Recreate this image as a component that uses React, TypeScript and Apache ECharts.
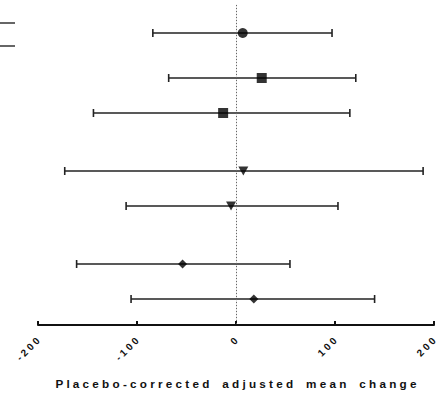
import React, { useEffect, useRef } from "react";
import * as echarts from "echarts";

// Row positions (arbitrary vertical units, top to bottom)
const rowPos = [2.8, 7.3, 10.8, 16.6, 20.1, 25.9, 29.4];
const means = [6.8, 26, -13, 7.4, -5, -54, 18];
const lowers = [-84, -68, -144, -173, -111, -161, -106];
const uppers = [97, 121, 115, 189, 103, 54.5, 140];
const symbols = ["circle", "rect", "rect", "triangle", "triangle", "diamond", "diamond"];
const xTicks = [-200, -100, 0, 100, 200];
const axisTitle = "Placebo-corrected adjusted mean change";

const spaced = (s: string) => s.split("").join(" ");

export default function App() {
  const ref = useRef<HTMLDivElement>(null);
  useEffect(() => {
    if (!ref.current) return;
    const chart = echarts.init(ref.current, null, { renderer: "svg" });
    const sizes: Record<string, number | number[]> = {
      circle: 10,
      rect: 10,
      triangle: [10, 9],
      diamond: [9, 9],
    };
    chart.setOption({
      animation: false,
      backgroundColor: "#ffffff",
      grid: { left: 38, right: 9, top: 5, bottom: 69 },
      xAxis: {
        type: "value",
        min: xTicks[0],
        max: xTicks[xTicks.length - 1],
        interval: 100,
        axisLine: { show: true, onZero: false, lineStyle: { color: "#111", width: 2 } },
        axisTick: { show: true, inside: true, length: 4, lineStyle: { color: "#111", width: 2 } },
        splitLine: { show: false },
        axisLabel: {
          rotate: 45,
          margin: 14,
          color: "#111",
          fontFamily: "Liberation Sans, Arial, sans-serif",
          fontWeight: "bold",
          fontSize: 10,
          formatter: (v: number) => spaced(String(v)),
        },
        name: spaced(axisTitle).replace(/   /g, "    "),
        nameLocation: "middle",
        nameGap: 52,
        nameTextStyle: {
          color: "#111",
          fontFamily: "Liberation Sans, Arial, sans-serif",
          fontWeight: "bold",
          fontSize: 11.7,
        },
      },
      yAxis: {
        type: "value",
        min: 0,
        max: 32,
        inverse: true,
        axisLine: { show: true, lineStyle: { color: "#e2e2e2", width: 1 } },
        axisTick: { show: false },
        axisLabel: { show: false },
        splitLine: { show: false },
      },
      graphic: [
        { type: "line", shape: { x1: 0, y1: 23, x2: 15, y2: 23 }, style: { stroke: "#333", lineWidth: 1.5 } },
        { type: "line", shape: { x1: 0, y1: 46, x2: 15, y2: 46 }, style: { stroke: "#333", lineWidth: 1.5 } },
      ],
      series: [
        {
          type: "line",
          data: [],
          markLine: {
            silent: true,
            symbol: "none",
            label: { show: false },
            lineStyle: { color: "#666", type: [1, 2], width: 1 },
            data: [[{ coord: [0, 0] }, { coord: [0, 32] }]],
          },
        },
        {
          type: "custom",
          data: rowPos.map((y, i) => [lowers[i], uppers[i], y]),
          renderItem: (params: any, api: any) => {
            const lo = api.coord([api.value(0), api.value(2)]);
            const hi = api.coord([api.value(1), api.value(2)]);
            const h = 4;
            const style = { stroke: "#222", lineWidth: 1.6 };
            return {
              type: "group",
              children: [
                { type: "line", shape: { x1: lo[0], y1: lo[1], x2: hi[0], y2: hi[1] }, style },
                { type: "line", shape: { x1: lo[0], y1: lo[1] - h, x2: lo[0], y2: lo[1] + h }, style },
                { type: "line", shape: { x1: hi[0], y1: hi[1] - h, x2: hi[0], y2: hi[1] + h }, style },
              ],
            };
          },
          z: 2,
        },
        {
          type: "scatter",
          z: 3,
          data: rowPos.map((y, i) => ({
            value: [means[i], y],
            symbol: symbols[i],
            symbolSize: sizes[symbols[i]],
            symbolRotate: symbols[i] === "triangle" ? 180 : 0,
          })),
          itemStyle: { color: "#000" },
        },
      ],
    });
    return () => chart.dispose();
  }, []);
  return (
    <div
      ref={ref}
      style={{ position: "fixed", left: 0, top: 0, width: 443, height: 394 }}
    />
  );
}
